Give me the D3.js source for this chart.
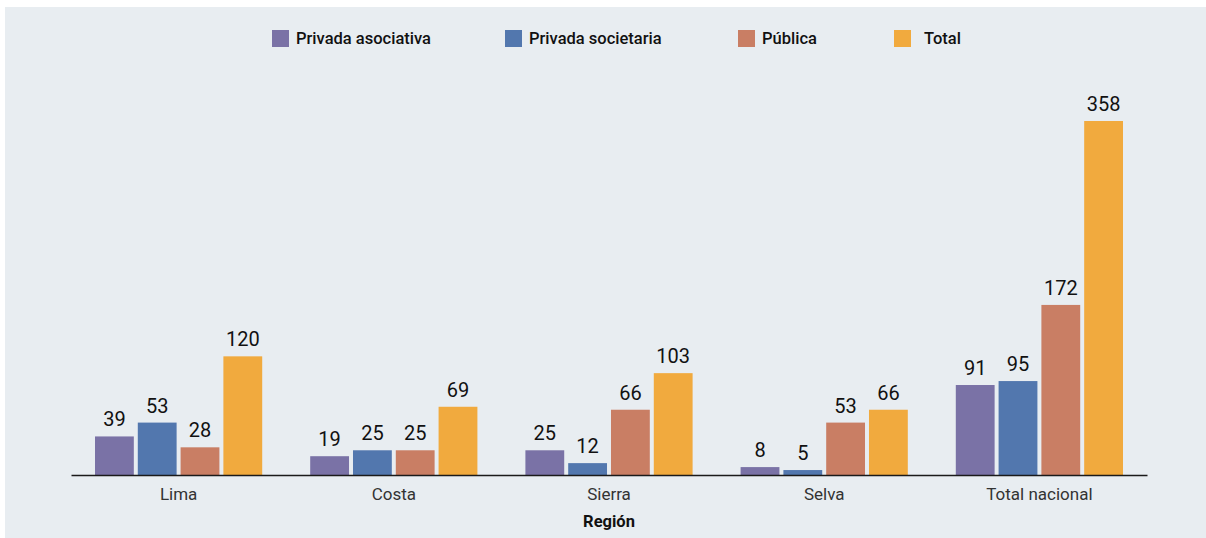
<!DOCTYPE html>
<html><head><meta charset="utf-8">
<script src="https://cdn.jsdelivr.net/npm/d3@7"></script>
<style>html,body{margin:0;padding:0;background:#fff;}svg{display:block;font-family:Roboto,"Noto Sans",sans-serif;}</style>
</head><body>
<svg id="chart" width="1206" height="538"></svg>
<script>
const categories = ["Lima", "Costa", "Sierra", "Selva", "Total nacional"];
const seriesNames = ["Privada asociativa", "Privada societaria", "Pública", "Total"];
const privadaAsociativa = [39, 19, 25, 8, 91];
const privadaSocietaria = [53, 25, 12, 5, 95];
const publica = [28, 25, 66, 53, 172];
const total = [120, 69, 103, 66, 358];
const colors = ["#7a72a6", "#5277ae", "#c97e64", "#f1aa3e"];
const xTitle = "Región";

const seriesValues = [privadaAsociativa, privadaSocietaria, publica, total];
const svg = d3.select("#chart");
svg.append("rect").attr("x",5).attr("y",7).attr("width",1201).attr("height",531).attr("fill","#e8edf1");

const x0 = d3.scaleBand().domain(categories).range([71,1147]).padding(0);
const groupInset = 24;
const x1 = d3.scaleBand().domain(seriesNames).range([groupInset, x0.bandwidth()-groupInset]).paddingInner(0.093).paddingOuter(0);
const y = d3.scaleLinear().domain([0, 358]).range([475, 121]);

const data = categories.map((c,i)=>({cat:c, vals: seriesNames.map((s,j)=>({s, j, v: seriesValues[j][i]}))}));

const g = svg.append("g");
const groups = g.selectAll("g.grp").data(data).join("g").attr("transform", d=>`translate(${x0(d.cat)},0)`);
groups.selectAll("rect").data(d=>d.vals).join("rect")
  .attr("x", d=>x1(d.s)).attr("width", x1.bandwidth())
  .attr("y", d=>y(d.v)).attr("height", d=>y(0)-y(d.v))
  .attr("fill", d=>colors[d.j]);
groups.selectAll("text.val").data(d=>d.vals).join("text").attr("class","val")
  .attr("x", d=>x1(d.s)+x1.bandwidth()/2).attr("y", d=>y(d.v)-10)
  .attr("text-anchor","middle").attr("font-size",20).attr("font-weight",400).attr("fill","#111")
  .text(d=>d.v);

const xAxis = d3.axisBottom(x0).tickSize(0).tickPadding(13);
const ax = svg.append("g").attr("transform","translate(0,475)").call(xAxis);
ax.select(".domain").attr("stroke","#1a1a1a").attr("stroke-width",1.6);
ax.selectAll("text").attr("font-size",17).attr("fill","#333").attr("font-family","Roboto,sans-serif");

svg.append("text").attr("x",(71+1147)/2).attr("y",527).attr("text-anchor","middle")
  .attr("font-size",16.5).attr("font-weight",700).attr("fill","#111").text(xTitle);

const legendX = [272, 505, 738, 894];
const lg = svg.append("g");
seriesNames.forEach((s,i)=>{
  lg.append("rect").attr("x",legendX[i]).attr("y",30).attr("width",17).attr("height",17).attr("fill",colors[i]);
  lg.append("text").attr("x",legendX[i]+ (i===3?30:24)).attr("y",44).attr("font-size",16.5).attr("font-weight",500).attr("fill","#111").text(s);
});
</script>
</body></html>
